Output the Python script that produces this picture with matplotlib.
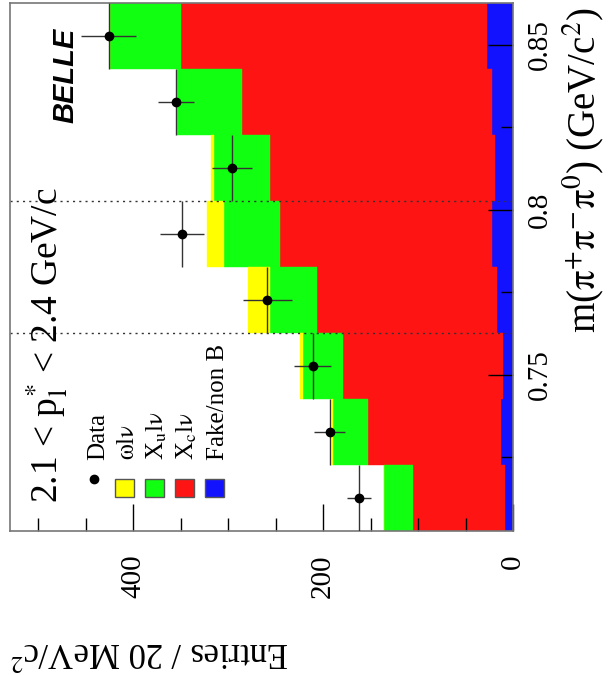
import numpy as np
import matplotlib
matplotlib.use("Agg")
import matplotlib.pyplot as plt
from matplotlib.patches import Rectangle
from matplotlib.lines import Line2D

plt.rcParams['font.family'] = ['Liberation Serif', 'DejaVu Serif']
plt.rcParams['mathtext.fontset'] = 'stix'

# omega mass window, 20 MeV bins
bin_edges = [0.70265, 0.72265, 0.74265, 0.76265, 0.78265, 0.80265, 0.82265, 0.84265, 0.86265]
signal_window = [0.76265, 0.80265]

# stacked components per bin (entries / 20 MeV)
fake_nonb = [8.4, 13, 11, 16.5, 22.5, 19.3, 22, 27]
xc_lnu = [97, 140, 168, 189.5, 223.5, 237, 264, 323]
xu_lnu = [31, 37, 42, 50, 58, 58.5, 68, 75]
omega_lnu = [0, 0.5, 3.5, 23, 18.5, 3, 0, 0]

data = [162, 193, 211, 259, 349, 296, 355, 426]
data_err = [12.6, 16.5, 19.6, 26, 23, 21, 18.6, 29]

mass_ticks = [0.75, 0.8, 0.85]
mass_labels = ['0.75', '0.8', '0.85']
entry_ticks = [0, 200, 400]
entry_labels = ['0', '200', '400']

legend_labels = ['Data', r'$\mathrm{\omega}$l$\mathrm{\nu}$', r'X$_{\rm u}$l$\mathrm{\nu}$',
                 r'X$_{\rm c}$l$\mathrm{\nu}$', 'Fake/non B']
colors = ['#ffff00', '#11ff11', '#ff1414', '#1212ff']

W, H = 609, 675
fig = plt.figure(figsize=(W / 100, H / 100), dpi=100)


def px(x, y):
    return x / W, 1 - y / H


# histogram drawn on its side: entries run right-to-left, mass runs upward
ax = fig.add_axes([10 / W, (H - 531) / H, (513 - 10) / W, (531 - 3) / H])
ax.set_xlim(530, 0)
ax.set_ylim(bin_edges[0], bin_edges[-1])

edges = np.array(bin_edges)
centers = 0.5 * (edges[1:] + edges[:-1])
width = edges[1:] - edges[:-1]

stack = [fake_nonb, xc_lnu, xu_lnu, omega_lnu]
stack_colors = [colors[3], colors[2], colors[1], colors[0]]
left = np.zeros(len(centers))
for vals, c in zip(stack, stack_colors):
    vals = np.array(vals, dtype=float)
    ax.barh(centers, vals, left=left, height=width, color=c,
            edgecolor=c, linewidth=0.3, zorder=1)
    left += vals

for m in signal_window:
    ax.axhline(m, color='#333333', ls=(0, (1.5, 3)), lw=1, zorder=2)

ax.errorbar(data, centers, xerr=data_err, yerr=width / 2, fmt='o',
            color='black', ms=6, ecolor='#333333', elinewidth=1,
            capsize=0, zorder=3)

for s in ax.spines.values():
    s.set_color('#777777')
    s.set_linewidth(1.2)

ax.yaxis.tick_right()
ax.set_yticks(mass_ticks, mass_labels)
ax.set_yticks([0.725, 0.775, 0.825], minor=True)
ax.tick_params(axis='y', which='major', direction='in', length=18, width=1,
               left=False, right=True, labelleft=False, labelright=True,
               pad=10, labelsize=21, labelrotation=90)
ax.tick_params(axis='y', which='minor', direction='in', length=8.6, width=1,
               left=False, right=True)

ax.set_xticks(entry_ticks, entry_labels)
ax.set_xticks([50, 100, 150, 250, 300, 350, 450, 500], minor=True)
ax.tick_params(axis='x', which='major', direction='in', length=19.4, width=1,
               top=False, bottom=True, pad=17, labelsize=21, labelrotation=90)
ax.tick_params(axis='x', which='minor', direction='in', length=9.4, width=1,
               top=False, bottom=True)
for t in ax.get_yticklabels():
    t.set_va('center')

# axis titles
fig.text(*px(583, 7), r'm($\mathrm{\pi^{+}\pi^{-}\pi^{0}}$) (GeV/c$^{2}$)',
         rotation=90, ha='center', va='top', fontsize=28)
fig.text(*px(10, 650), r'Entries / 20 MeV/c$^{2}$',
         rotation=180, ha='left', va='center', fontsize=25)

# momentum bin and experiment tag
fig.text(*px(58, 503), r'2.1 < p$^{*}_{\rm l}$ < 2.4 GeV/c', rotation=90,
         rotation_mode='anchor', ha='left', va='baseline', fontsize=27)
fig.text(*px(73, 123), 'BELLE', rotation=90, rotation_mode='anchor',
         ha='left', va='baseline', fontsize=21, fontweight='bold',
         fontstyle='italic', family='Liberation Sans')

# legend, rows laid side by side
fig.add_artist(Line2D([px(94, 479)[0]], [px(94, 479)[1]], marker='o',
                      color='black', ms=6, transform=fig.transFigure))
for i, c in enumerate(colors):
    x0, y0 = px(115 + 30 * i, 497)
    fig.add_artist(Rectangle((x0, y0), 19 / W, 18 / H, facecolor=c,
                             edgecolor='#555555', lw=1,
                             transform=fig.transFigure))
for i, lab in enumerate(legend_labels):
    fig.text(*px(104 + 30 * i, 460), lab, rotation=90, rotation_mode='anchor',
             ha='left', va='baseline', fontsize=18)

fig.savefig('out.png', dpi=100)
